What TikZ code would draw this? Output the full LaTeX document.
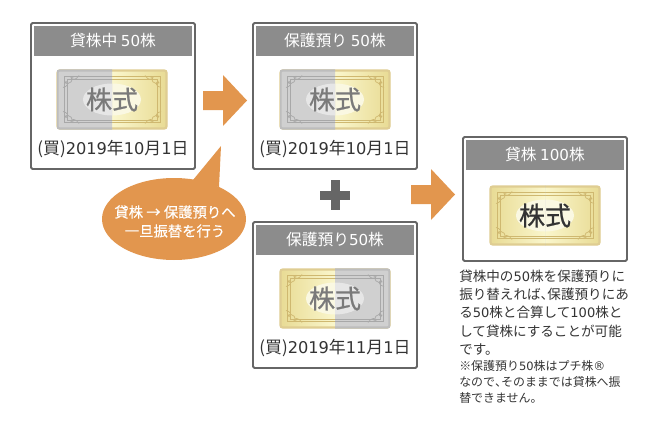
\documentclass[tikz,border=0pt]{standalone}
\usepackage{fontspec}
\setmainfont{Noto Sans CJK JP}
\newfontfamily\widefont{DejaVu Sans}
\newfontfamily\halffont[RawFeature=+halt]{Noto Sans CJK JP}
\newfontfamily\stockfont[FakeBold=0.7]{Noto Sans CJK JP}
\newfontfamily\notefont[FakeBold=0.25]{Noto Sans CJK JP}
\newcommand{\dg}[1]{{\widefont\addfontfeatures{Scale=.96}#1}}
\usetikzlibrary{arrows.meta,positioning,calc}
\definecolor{ink}{HTML}{333333}
\definecolor{frame}{HTML}{666666}
\definecolor{band}{HTML}{8C8C8C}
\definecolor{orange}{HTML}{E2964E}
\definecolor{plusgray}{HTML}{666666}
\definecolor{goldedge}{HTML}{DFCD92}
\definecolor{goldline}{HTML}{CFB870}
\definecolor{goldhigh}{HTML}{FAF6CC}
\definecolor{goldlow}{HTML}{E8DB94}
\definecolor{goldoval}{HTML}{FAF8E2}
\definecolor{grayedge}{HTML}{BDBDBD}
\definecolor{grayline}{HTML}{A8A8A8}
\definecolor{grayfill}{HTML}{D0D0D0}
\definecolor{grayoval}{HTML}{E6E6E6}
\definecolor{faded}{HTML}{7A7A7A}
\tikzset{
  boxline/.style={draw=frame,fill=white,line width=1.4pt,rounded corners=1pt},
  bandtext/.style={text=white,font=\fontsize{11.2}{13}\selectfont},
  datetext/.style={text=ink,font=\fontsize{12}{14}\selectfont},
  stocktext/.style={font=\fontsize{18.5}{20}\stockfont},
  blockarrow/.style={fill=orange}
}
% one certificate: node name, centre x, centre y, grey part from, grey part to, text colour
\newcommand{\certdecor}[2]{%
  \draw[#1,line width=.55pt] (-48,-23) rectangle (48,23);
  \draw[#1,line width=.3pt] (-45,-20.5) rectangle (45,20.5);
  \foreach \sx/\sy in {1/1,-1/1,1/-1,-1/-1} {
    \begin{scope}[xscale=\sx,yscale=\sy]
      \draw[#1,line width=.5pt] (49,12) .. controls (44,13) and (43,17) .. (46,18) .. controls (48,18) and (47,15) .. (45,16);
      \draw[#1,line width=.5pt] (33,24) .. controls (36,19) and (41,19) .. (41,22) .. controls (40,24) and (38,23) .. (39,21);
      \draw[#1,line width=.5pt] (44,16) .. controls (41,17) and (40,18) .. (40,20);
    \end{scope}
  }
  \fill[#2] (0,0) ellipse (29 and 16);
}
\newcommand{\stockcard}[6]{%
  \begin{scope}[shift={(#2,#3)}]
    \shade[left color=goldlow,right color=goldlow,middle color=goldhigh,rounded corners=1.5pt] (-55,-29.5) rectangle (55,29.5);
    \certdecor{goldline}{goldoval}
    \draw[goldedge,line width=1.5pt,rounded corners=1.5pt] (-54.5,-29) rectangle (54.5,29);
    \begin{scope}
      \clip (#4,-31) rectangle (#5,31);
      \fill[grayfill,rounded corners=1.5pt] (-55,-29.5) rectangle (55,29.5);
      \certdecor{grayline}{grayoval}
      \draw[grayedge,line width=1.5pt,rounded corners=1.5pt] (-54.5,-29) rectangle (54.5,29);
    \end{scope}
    \node[stocktext,text=#6] (#1) at (0,0) {株式};
  \end{scope}
}
\begin{document}
\begin{tikzpicture}[x=.025cm,y=-.025cm]
\path[use as bounding box] (0,0) rectangle (660,421);

% left column
\draw[boxline] (31,23) rectangle (195,169);
\fill[band] (34,26) rectangle (192,56);
\node[bandtext] (loanhead) at (113,41) {貸株中 \dg{50}株};
\stockcard{loanstock}{112}{99.5}{-55}{0}{faded}
\node[datetext] (loandate) at (113,149) {(買)\dg{2019}年\dg{10}月\dg{1}日};

% middle column
\draw[boxline] (253,23) rectangle (417,169);
\fill[band] (256,26) rectangle (414,56);
\node[bandtext] (safehead) at (335,41) {保護預り \dg{50}株};
\stockcard{safestock}{335}{99.5}{-55}{0}{faded}
\node[datetext] (safedate) at (335,149) {(買)\dg{2019}年\dg{10}月\dg{1}日};

\draw[boxline] (253,222) rectangle (417,368);
\fill[band] (256,225) rectangle (414,255);
\node[bandtext] (newhead) at (335,240) {保護預り\dg{50}株};
\stockcard{newstock}{335}{298.5}{0}{55}{faded}
\node[datetext] (newdate) at (335,348) {(買)\dg{2019}年\dg{11}月\dg{1}日};

% right column
\draw[boxline] (463,137) rectangle (627,261);
\fill[band] (466,140) rectangle (624,170);
\node[bandtext] (allhead) at (545,155) {貸株 \dg{100}株};
\stockcard{allstock}{545}{215.5}{0}{0}{ink}

% arrows and plus
\fill[blockarrow] (203,91)--(223,91)--(223,75)--(247,100.5)--(223,126)--(223,110)--(203,110)--cycle;
\fill[blockarrow] (411,185)--(431,185)--(431,169)--(455,194.5)--(431,220)--(431,204)--(411,204)--cycle;
\fill[plusgray] (331,180) rectangle (339.5,210);
\fill[plusgray] (320,191) rectangle (350,199.5);

% balloon
\fill[orange] (174,219) ellipse (72 and 41);
\fill[orange] (193,180)--(221,146)--(219,187)--cycle;
\node[text=white,align=center,font=\fontsize{10.2}{13.5}\notefont] (note) at (175,221.5) {貸株 → 保護預りへ\\一旦振替を行う};

\node[anchor=north west,text=ink,inner sep=0pt,align=left,font=\fontsize{9.65}{13}\selectfont] (explain) at (459,269.5) {貸株中の\dg{50}株を保護預りに\\振り替えれば{\halffont 、}保護預りにあ\\る\dg{50}株と合算して\dg{100}株と\\して貸株にすることが可能\\です。};
\node[anchor=north west,text=ink,inner sep=0pt,align=left,font=\fontsize{8.5}{11.4}\selectfont] (remark) at (459,360.5) {※保護預り\dg{50}株はプチ株{\widefont ®}\\なので{\halffont 、}そのままでは貸株へ振\\替できません。};

\end{tikzpicture}
\end{document}
